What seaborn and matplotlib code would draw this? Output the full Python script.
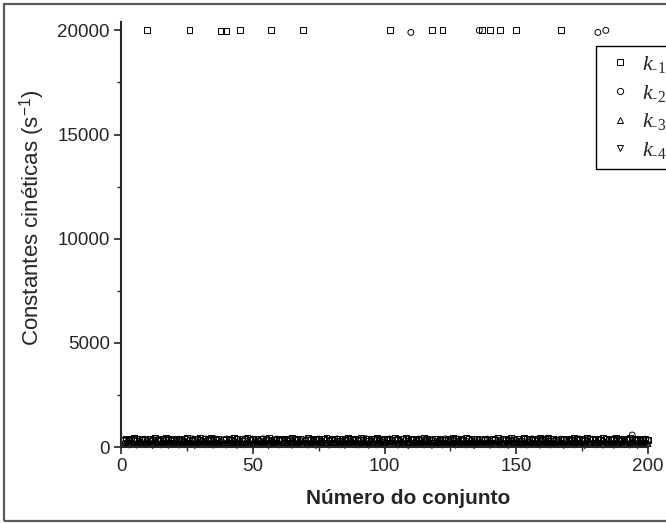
import matplotlib
matplotlib.use("Agg")
import matplotlib.pyplot as plt
from matplotlib.lines import Line2D
from matplotlib.patches import Rectangle
from matplotlib.ticker import MultipleLocator
import numpy as np
import pandas as pd
import seaborn as sns

# Kinetic constants fitted for each of the 200 data sets
k1 = [352, 410, 318, 385, 436, 297, 371, 402, 340, 20000, 388, 325, 417, 362, 301, 394, 428, 347, 380, 311,
      406, 359, 289, 377, 421, 20000, 338, 392, 366, 415, 304, 383, 349, 427, 372, 318, 399, 19950, 357, 19950,
      386, 330, 411, 368, 20000, 299, 379, 424, 341, 395, 363, 312, 404, 376, 335, 419, 20000, 353, 390, 322,
      408, 345, 381, 296, 414, 369, 337, 401, 20000, 358, 426, 315, 387, 349, 398, 307, 373, 418, 331, 392,
      364, 409, 302, 383, 346, 421, 375, 320, 397, 356, 412, 338, 385, 294, 403, 367, 428, 342, 379, 316,
      395, 20000, 351, 413, 327, 389, 366, 420, 305, 382, 347, 401, 361, 323, 416, 374, 339, 20000, 393, 310,
      407, 20000, 357, 384, 332, 418, 370, 299, 396, 348, 425, 363, 314, 391, 377, 340, 20000, 405, 355, 20000,
      386, 321, 411, 20000, 368, 397, 336, 422, 359, 20000, 380, 307, 414, 372, 344, 399, 326, 388, 415, 353,
      376, 419, 301, 392, 362, 337, 20000, 404, 350, 383, 318, 426, 369, 341, 395, 310, 411, 365, 387, 334,
      402, 357, 420, 376, 328, 394, 349, 413, 371, 305, 398, 362, 425, 338, 384, 317, 409, 355, 390, 343]

k2 = [301, 345, 276, 368, 322, 389, 257, 334, 372, 298, 351, 283, 396, 319, 362, 270, 340, 381, 307, 355,
      288, 374, 326, 259, 365, 312, 391, 279, 347, 330, 268, 384, 305, 358, 293, 377, 321, 262, 349, 386,
      310, 337, 275, 369, 296, 353, 388, 264, 328, 375, 302, 346, 281, 393, 317, 359, 271, 338, 380, 299,
      363, 286, 342, 378, 254, 331, 370, 308, 356, 285, 392, 324, 266, 348, 383, 295, 361, 315, 277, 367,
      333, 389, 272, 350, 306, 379, 260, 344, 371, 290, 357, 318, 395, 282, 336, 364, 301, 376, 263, 352,
      327, 385, 294, 341, 373, 278, 360, 313, 390, 19900, 345, 267, 382, 309, 354, 288, 371, 332, 258, 366,
      303, 348, 387, 274, 339, 362, 297, 380, 319, 355, 284, 393, 326, 269, 358, 20000, 341, 307, 376, 290,
      352, 383, 265, 334, 369, 311, 347, 279, 391, 322, 360, 296, 374, 256, 343, 386, 314, 351, 281, 367,
      329, 394, 300, 357, 273, 340, 378, 316, 353, 287, 370, 261, 335, 384, 304, 362, 292, 349, 375, 318,
      19900, 344, 276, 20000, 306, 359, 389, 283, 336, 368, 299, 351, 385, 575, 325, 363, 271, 340, 377, 310]

k3 = [186, 224, 152, 241, 199, 168, 232, 141, 210, 177, 253, 159, 219, 194, 136, 228, 182, 245, 163, 205,
      239, 171, 214, 148, 256, 191, 226, 157, 203, 235, 166, 248, 181, 129, 221, 196, 242, 154, 212, 187,
      230, 144, 207, 251, 174, 218, 161, 237, 193, 133, 225, 179, 246, 201, 155, 233, 168, 215, 258, 185,
      146, 222, 197, 240, 162, 209, 183, 252, 139, 229, 175, 216, 247, 158, 204, 236, 170, 192, 127, 227,
      211, 249, 165, 200, 238, 151, 223, 184, 257, 176, 213, 143, 231, 195, 167, 244, 189, 220, 137, 206,
      234, 178, 254, 160, 217, 198, 243, 149, 228, 188, 132, 239, 172, 208, 250, 164, 226, 190, 145, 219,
      202, 241, 169, 230, 153, 212, 259, 180, 224, 138, 245, 196, 163, 235, 207, 176, 251, 147, 216, 193,
      229, 156, 242, 184, 209, 134, 237, 173, 255, 199, 166, 221, 188, 247, 142, 214, 233, 179, 204, 158,
      243, 191, 227, 150, 218, 171, 256, 205, 135, 232, 182, 211, 248, 162, 223, 195, 140, 238, 177, 215,
      185, 250, 157, 231, 200, 174, 244, 148, 220, 190, 257, 167, 206, 236, 181, 130, 226, 197, 241, 170]

k4 = [121, 158, 94, 176, 135, 83, 167, 112, 189, 102, 145, 71, 183, 128, 98, 162, 139, 77, 171, 115,
      152, 88, 194, 126, 107, 173, 141, 66, 160, 119, 185, 97, 148, 131, 79, 169, 110, 191, 134, 92,
      178, 116, 155, 73, 187, 124, 100, 164, 143, 85, 197, 130, 106, 172, 150, 68, 181, 118, 157, 96,
      136, 184, 103, 165, 80, 147, 122, 192, 109, 175, 90, 153, 127, 69, 188, 114, 159, 137, 86, 170,
      123, 196, 101, 144, 76, 180, 132, 111, 166, 93, 154, 186, 117, 75, 163, 140, 99, 177, 129, 82,
      168, 108, 190, 146, 87, 174, 120, 156, 64, 182, 133, 104, 161, 142, 91, 195, 125, 72, 170, 113,
      149, 89, 179, 138, 105, 167, 81, 193, 127, 152, 95, 176, 118, 62, 184, 144, 107, 161, 130, 78,
      173, 115, 189, 98, 156, 134, 70, 179, 121, 146, 198, 103, 164, 87, 137, 172, 111, 151, 84, 186,
      126, 160, 93, 181, 143, 108, 166, 74, 192, 131, 155, 97, 174, 119, 139, 65, 183, 124, 158, 101,
      171, 135, 86, 188, 117, 150, 79, 163, 142, 106, 195, 128, 90, 168, 148, 72, 180, 114, 157, 99]

conjuntos = list(range(1, 201))
series_names = ["k-1", "k-2", "k-3", "k-4"]
legend_labels = [r"$k_{\text{-1}}$", r"$k_{\text{-2}}$",
                 r"$k_{\text{-3}}$", r"$k_{\text{-4}}$"]
marker_shapes = ["s", "o", "^", "v"]

df = pd.DataFrame({
    "conjunto": conjuntos * 4,
    "valor": k1 + k2 + k3 + k4,
    "constante": np.repeat(series_names, len(conjuntos)),
})

sns.set_style("ticks")
plt.rcParams["font.family"] = ["Liberation Sans", "DejaVu Sans"]
plt.rcParams["mathtext.fontset"] = "custom"
plt.rcParams["mathtext.it"] = "Liberation Serif:italic"
plt.rcParams["mathtext.rm"] = "Liberation Serif"

fig = plt.figure(figsize=(6.66, 5.23), dpi=100)
ax = fig.add_axes([121 / 666, 1 - 447 / 523, 527 / 666, (447 - 22) / 523])

for name, mk in zip(series_names, marker_shapes):
    sub = df[df["constante"] == name]
    sns.scatterplot(data=sub, x="conjunto", y="valor", ax=ax, marker=mk,
                    s=18, facecolors="none", edgecolors="black", linewidths=0.7,
                    legend=False, clip_on=False)

ax.set_xlim(0, 200)
ax.set_ylim(0, 20400)
ax.xaxis.set_major_locator(MultipleLocator(50))
ax.xaxis.set_minor_locator(MultipleLocator(25))
ax.yaxis.set_major_locator(MultipleLocator(5000))
ax.yaxis.set_minor_locator(MultipleLocator(2500))
ax.tick_params(which="major", direction="out", length=5, width=1.2, labelsize=13.5, pad=3)
ax.tick_params(which="minor", direction="out", length=3, width=1.0)
for side in ["top", "right"]:
    ax.spines[side].set_visible(False)
for side in ["left", "bottom"]:
    ax.spines[side].set_linewidth(1.5)

ax.set_xlabel("Número do conjunto", fontsize=15, fontweight="bold")
ax.xaxis.set_label_coords((408 - 121) / 527, -0.098)
ax.set_ylabel(r"Constantes cinéticas (s$^{\mathregular{-1}}$)", fontsize=16)
ax.yaxis.set_label_coords(-0.14, 0.54)

handles = [Line2D([], [], linestyle="none", marker=mk, markersize=4.5,
                  markerfacecolor="none", markeredgecolor="black", markeredgewidth=0.7)
           for mk in marker_shapes]
leg = fig.legend(handles, legend_labels, loc="upper left",
                 bbox_to_anchor=(596 / 666, 1 - 46 / 523), frameon=True,
                 fancybox=False, framealpha=1, edgecolor="black", fontsize=16,
                 handlelength=1.5, handletextpad=0.22, labelspacing=0.35,
                 borderpad=0.35, borderaxespad=0)
leg.get_frame().set_linewidth(1.0)

# Thin grey frame around the whole figure
fig.patches.append(Rectangle((4 / 666, 2 / 523), 1.2, 1 - 6 / 523,
                             transform=fig.transFigure, fill=False,
                             edgecolor="#5a5a5a", linewidth=1.6, clip_on=False))

fig.savefig("out.png", dpi=100)
